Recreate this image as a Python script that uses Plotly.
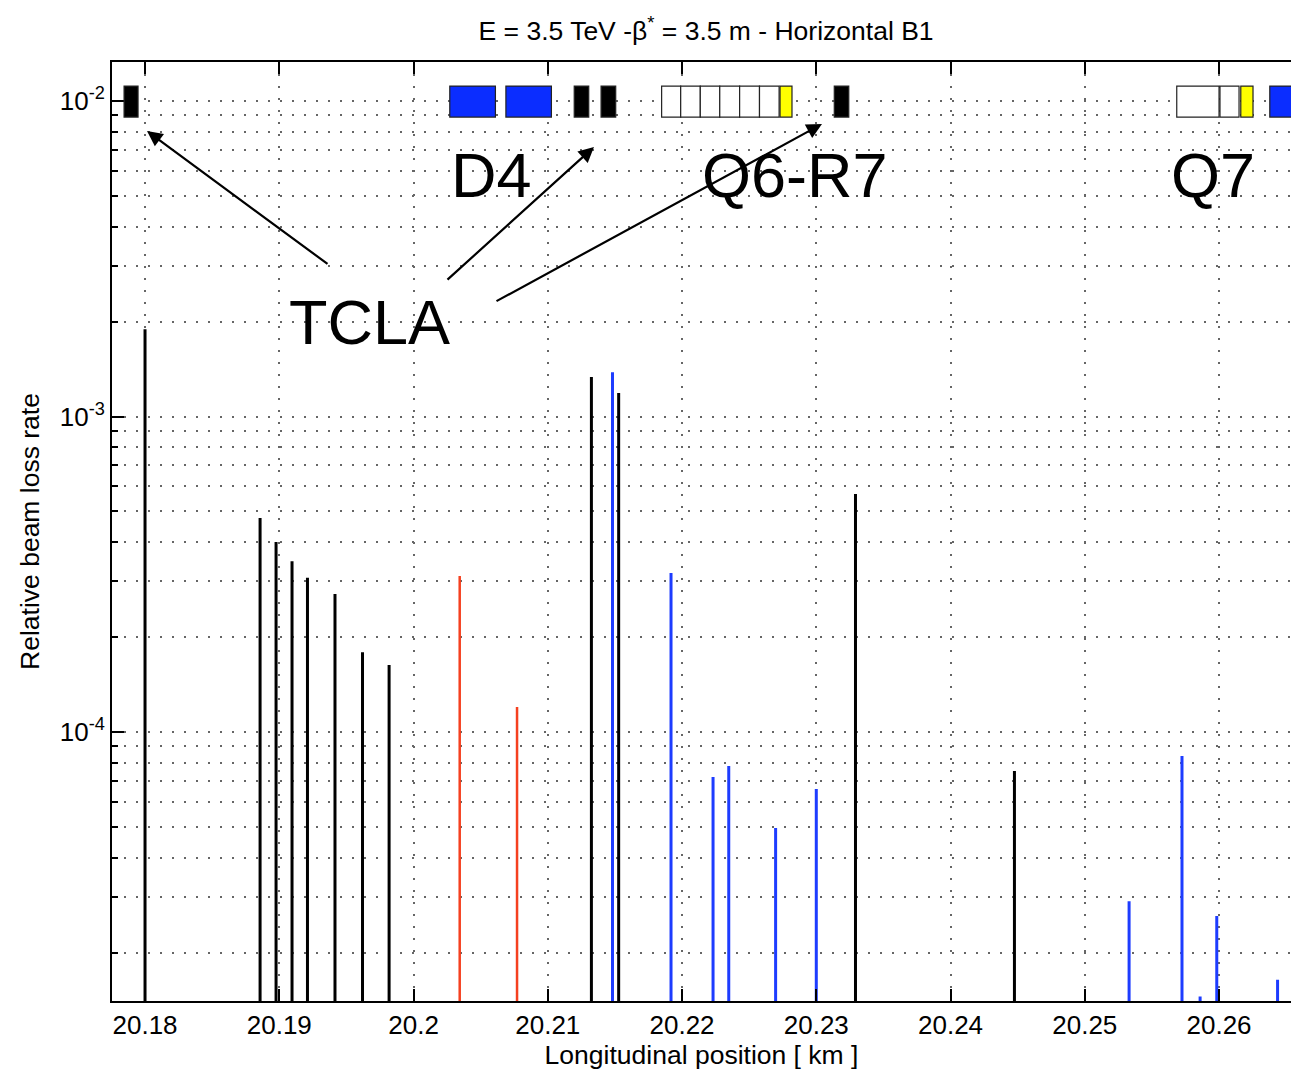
import plotly.graph_objects as go

# ---------------- data ----------------
black_pos = [20.18, 20.18857, 20.18976, 20.19095, 20.19210, 20.19415, 20.19620, 20.19818,
             20.21325, 20.21528, 20.23292, 20.24476]
black_val = [1.89e-3, 4.77e-4, 4.0e-4, 3.48e-4, 3.08e-4, 2.74e-4, 1.79e-4, 1.63e-4,
             1.334e-3, 1.187e-3, 5.68e-4, 7.52e-5]
red_pos = [20.20344, 20.20771]
red_val = [3.12e-4, 1.2e-4]
blue_pos = [20.21482, 20.21918, 20.22231, 20.22348, 20.22697, 20.23000,
            20.25330, 20.25724, 20.25859, 20.25983, 20.26436]
blue_val = [1.38e-3, 3.19e-4, 7.2e-5, 7.8e-5, 4.96e-5, 6.6e-5,
            2.91e-5, 8.4e-5, 1.45e-5, 2.61e-5, 1.64e-5]

# beamline elements (start km, end km, kind)
elem_start = [20.17844, 20.20270, 20.20688, 20.21197, 20.21397,
              20.21848, 20.21990, 20.22136, 20.22281, 20.22429, 20.22577, 20.22730,
              20.23134, 20.25685, 20.26007, 20.26162, 20.26378]
elem_end = [20.17948, 20.20610, 20.21027, 20.21305, 20.21506,
            20.21990, 20.22136, 20.22281, 20.22429, 20.22577, 20.22723, 20.22819,
            20.23242, 20.26000, 20.26149, 20.26253, 20.2685]
elem_kind = ["coll", "dipole", "dipole", "coll", "coll",
             "quad", "quad", "quad", "quad", "quad", "quad", "corr",
             "coll", "quad", "quad", "corr", "dipole"]

x_ticks = [20.18, 20.19, 20.2, 20.21, 20.22, 20.23, 20.24, 20.25, 20.26]
x_ticklabels = ["20.18", "20.19", "20.2", "20.21", "20.22", "20.23", "20.24", "20.25", "20.26"]
y_ticks = [1e-4, 1e-3, 1e-2]
y_ticklabels = ["10<sup>-4</sup>", "10<sup>-3</sup>", "10<sup>-2</sup>"]
y_minor = [m * 10.0 ** e for e in (-5, -4, -3, -2) for m in range(2, 10)]

FLOOR = 1e-6
kind_fill = {"coll": "black", "dipole": "#0b2dff", "quad": "white", "corr": "#ffff00"}


def stems(pos, val):
    xs, ys = [], []
    for p, v in zip(pos, val):
        xs += [p, p, None]
        ys += [FLOOR, v, None]
    return xs, ys


fig = go.Figure()
for pos, val, col, w in [(black_pos, black_val, "black", 3),
                         (red_pos, red_val, "#f5401f", 2.5),
                         (blue_pos, blue_val, "#1d3cff", 3)]:
    xs, ys = stems(pos, val)
    fig.add_trace(go.Scatter(x=xs, y=ys, mode="lines", line=dict(color=col, width=w),
                             showlegend=False, hoverinfo="skip", cliponaxis=True))

# element boxes
for s, e, k in zip(elem_start, elem_end, elem_kind):
    fig.add_shape(type="rect", xref="x", yref="paper", x0=s, x1=e, y0=0.9414, y1=0.9744,
                  fillcolor=kind_fill[k], line=dict(color="#222222", width=1.2), layer="above")

font = "Liberation Sans, Arial, Helvetica, sans-serif"
# big labels
for txt, xp, yp in [("TCLA", 0.2188, 0.7231), ("D4", 0.3223, 0.8797),
                    ("Q6-R7", 0.5793, 0.8797), ("Q7", 0.9338, 0.8797)]:
    fig.add_annotation(text=txt, x=xp, y=yp, xref="paper", yref="paper", showarrow=False,
                       font=dict(size=63, color="black", family=font),
                       xanchor="center", yanchor="middle")

# arrows (head in paper coords, tail offset in pixels)
for xp, yp, ax, ay in [(0.02969, 0.9265, 182, 134),
                       (0.4088, 0.9095, -148, 134),
                       (0.6022, 0.9340, -327, 178)]:
    fig.add_annotation(text="", x=xp, y=yp, xref="paper", yref="paper", showarrow=True,
                       ax=ax, ay=ay, axref="pixel", ayref="pixel",
                       arrowhead=2, arrowsize=1.4, arrowwidth=2.2, arrowcolor="black")

fig.update_layout(
    width=1291, height=1070,
    margin=dict(l=112, r=0, t=62, b=69),
    paper_bgcolor="white", plot_bgcolor="white",
    font=dict(family=font, size=26, color="black"),
    title=dict(text="E = 3.5 TeV -β<sup>*</sup> = 3.5 m - Horizontal B1",
               x=0.5469, xanchor="center", y=0.971, yanchor="middle",
               font=dict(size=26.5)),
    showlegend=False,
)
fig.update_xaxes(
    range=[20.17754, 20.26536], tickvals=x_ticks, ticktext=x_ticklabels,
    ticks="inside", ticklen=12, tickwidth=1.5, tickcolor="black",
    showline=True, linecolor="black", linewidth=2, mirror="ticks",
    showgrid=True, gridcolor="#666666", gridwidth=1.5, griddash="2px,10px",
    zeroline=False,
    title=dict(text="Longitudinal position [ km ]", standoff=4, font=dict(size=26.5)),
    tickfont=dict(size=26),
)
fig.update_yaxes(
    type="log", range=[-4.8526, -1.8764], tickvals=y_ticks, ticktext=y_ticklabels,
    ticks="inside", ticklen=12, tickwidth=1.5, tickcolor="black",
    showline=True, linecolor="black", linewidth=2, mirror=False,
    showgrid=True, gridcolor="#666666", gridwidth=1.5, griddash="2px,10px",
    minor=dict(tickvals=y_minor, ticks="inside", ticklen=6, tickcolor="black",
               showgrid=True, gridcolor="#666666", gridwidth=1.5, griddash="2px,10px"),
    zeroline=False,
    title=dict(text="Relative beam loss rate", standoff=12, font=dict(size=26.5)),
    tickfont=dict(size=26),
)

fig.write_html("out.html")
